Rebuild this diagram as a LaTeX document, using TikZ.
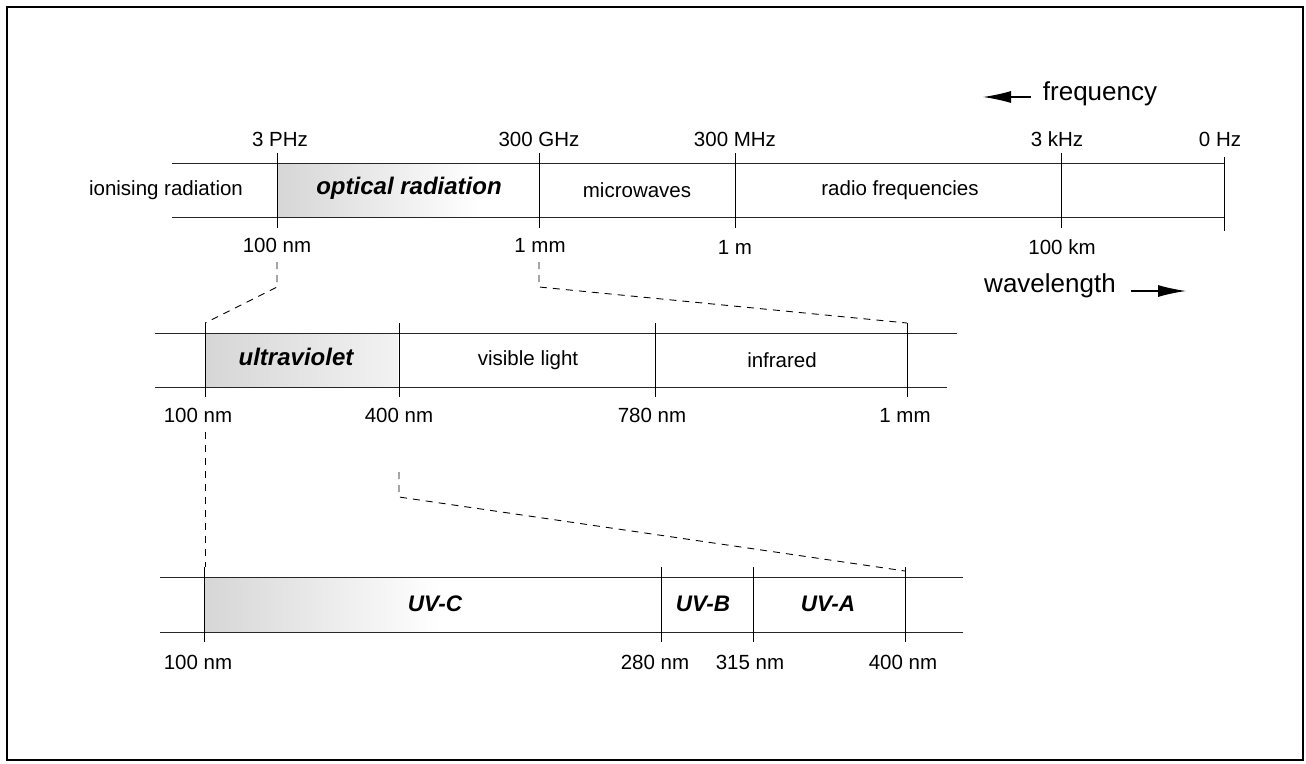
\documentclass[tikz,border=0pt]{standalone}
\usepackage{fontspec}
\setmainfont{Liberation Sans}
\usetikzlibrary{arrows.meta}
\begin{document}
\begin{tikzpicture}[x=1pt,y=-1pt,
  band/.style={line width=0.9pt, black!85},
  tickline/.style={line width=0.9pt, black},
  lbl/.style={font=\fontsize{20.5}{22}\selectfont, inner sep=0pt},
  emphl/.style={font=\fontsize{24}{26}\selectfont\bfseries\itshape, inner sep=0pt},
  uvl/.style={font=\fontsize{22.5}{25}\selectfont\bfseries\itshape, inner sep=0pt},
  conn/.style={dash pattern=on 7pt off 6pt, line width=0.9pt, black},
  bigl/.style={font=\fontsize{26}{28}\selectfont, inner sep=0pt},
  dirarrow/.style={line width=1.3pt, -{Latex[length=28pt,width=12pt]}}
]
\useasboundingbox (0,0) rectangle (1306,763);
\draw[line width=2pt] (7,7) rectangle (1303,760);

% stippled (shaded) regions
\shade[left color=black!16, right color=white] (278,164) rectangle (480,216);
\shade[left color=black!16, right color=black!5] (206,334) rectangle (398,386);
\shade[left color=black!16, right color=white] (205,578) rectangle (440,631);

% ---------- top band ----------
\draw[band] (172,163) -- (1224,163) (172,217) -- (1224,217);
\foreach \x in {277,539,735,1061} \draw[tickline] (\x,153) -- (\x,228);
\draw[tickline] (1224,157) -- (1224,231);

\node[lbl] (f1) at (280,139) {3 PHz};
\node[lbl] (f2) at (539,139) {300 GHz};
\node[lbl] (f3) at (735,139) {300 MHz};
\node[lbl] (f4) at (1057,139) {3 kHz};
\node[lbl] (f5) at (1220,139) {0 Hz};

\node[lbl] (ion) at (166,190) {ionising radiation};
\node[emphl] (opt) at (409,188) {optical radiation};
\node[lbl] (mic) at (637,190) {microwaves};
\node[lbl] (rad) at (900,190) {radio frequencies};

\node[lbl] (w1) at (277,245) {100 nm};
\node[lbl] (w2) at (540,245) {1 mm};
\node[lbl] (w3) at (735,247) {1 m};
\node[lbl] (w4) at (1062,247) {100 km};

\node[bigl] (freq) at (1100,94) {frequency};
\coordinate (fa1) at (1031,97);
\coordinate (fa2) at (983,97);
\draw[dirarrow] (fa1) -- (fa2);

\node[bigl] (wave) at (1050,286) {wavelength};
\coordinate (wa1) at (1131,291);
\coordinate (wa2) at (1186,291);
\draw[dirarrow] (wa1) -- (wa2);

% ---------- middle band ----------
\draw[band] (155,333) -- (957,333) (155,387) -- (947,387);
\foreach \x in {205,399,655,907} \draw[tickline] (\x,323) -- (\x,397);

\node[emphl] (uv) at (296,357) {ultraviolet};
\node[lbl] (vis) at (528,360) {visible light};
\node[lbl] (ir) at (782,360) {infrared};

\node[lbl] (m1) at (198,415) {100 nm};
\node[lbl] (m2) at (399,415) {400 nm};
\node[lbl] (m3) at (652,415) {780 nm};
\node[lbl] (m4) at (905,415) {1 mm};

% ---------- bottom band ----------
\draw[band] (160,577) -- (963,577) (160,632) -- (963,632);
\foreach \x in {204,661,753,905} \draw[tickline] (\x,567) -- (\x,642);

\node[uvl] (uvc) at (435,604) {UV-C};
\node[uvl] (uvb) at (703,604) {UV-B};
\node[uvl] (uva) at (828,604) {UV-A};

\node[lbl] (b1) at (198,662) {100 nm};
\node[lbl] (b2) at (655,662) {280 nm};
\node[lbl] (b3) at (750,662) {315 nm};
\node[lbl] (b4) at (903,662) {400 nm};

% ---------- dashed zoom connectors ----------
\coordinate (c1a) at (277,262);
\coordinate (c1b) at (277,287);
\coordinate (c1c) at (205,323);
\draw[conn] (c1a) -- (c1b) -- (c1c);

\coordinate (c2a) at (539,262);
\coordinate (c2b) at (539,287);
\coordinate (c2c) at (907,323);
\draw[conn] (c2a) -- (c2b) -- (c2c);

\coordinate (c3a) at (205,432);
\coordinate (c3b) at (205,567);
\draw[conn] (c3a) -- (c3b);

\coordinate (c4a) at (399,472);
\coordinate (c4b) at (399,497);
\coordinate (c4c) at (905,571);
\draw[conn] (c4a) -- (c4b) -- (c4c);
\end{tikzpicture}
\end{document}
